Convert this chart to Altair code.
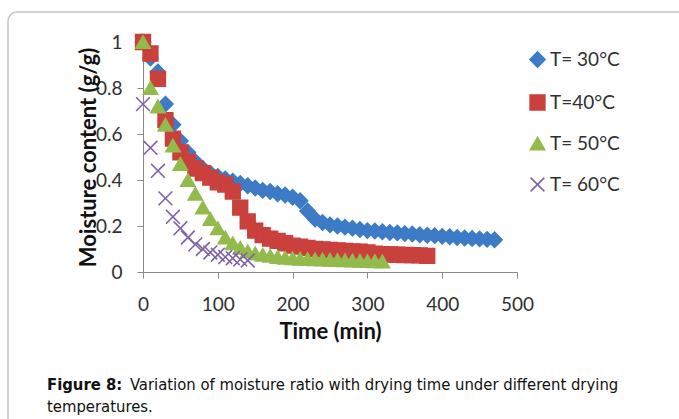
import altair as alt
import pandas as pd

# ---------------- data ----------------
series_names = ["T= 30°C", "T=40°C", "T= 50°C", "T= 60°C"]

time_30 = list(range(0, 480, 10))
mc_30 = [1.0, 0.93, 0.87, 0.73, 0.64, 0.57, 0.52, 0.48, 0.45, 0.43,
         0.415, 0.405, 0.395, 0.385, 0.375, 0.365, 0.355, 0.35, 0.34, 0.335,
         0.325, 0.31, 0.265, 0.23, 0.215, 0.205, 0.2, 0.195, 0.19, 0.185,
         0.18, 0.178, 0.175, 0.172, 0.17, 0.167, 0.165, 0.162, 0.16, 0.158,
         0.155, 0.153, 0.15, 0.148, 0.146, 0.144, 0.142, 0.14]

time_40 = list(range(0, 390, 10))
mc_40 = [1.0, 0.95, 0.84, 0.66, 0.58, 0.52, 0.48, 0.45, 0.43, 0.41,
         0.39, 0.38, 0.35, 0.28, 0.22, 0.18, 0.16, 0.145, 0.135, 0.125,
         0.115, 0.11, 0.105, 0.1, 0.098, 0.096, 0.094, 0.092, 0.09, 0.088,
         0.085, 0.08, 0.078, 0.076, 0.075, 0.074, 0.073, 0.072, 0.07]

time_50 = list(range(0, 330, 10))
mc_50 = [1.0, 0.8, 0.72, 0.64, 0.55, 0.47, 0.4, 0.34, 0.28, 0.23,
         0.19, 0.15, 0.125, 0.105, 0.09, 0.08, 0.075, 0.07, 0.065, 0.062,
         0.06, 0.058, 0.056, 0.055, 0.054, 0.053, 0.052, 0.051, 0.05, 0.049,
         0.048, 0.047, 0.046]

time_60 = list(range(0, 150, 10))
mc_60 = [0.73, 0.54, 0.44, 0.32, 0.24, 0.19, 0.15, 0.12, 0.1, 0.085,
         0.075, 0.065, 0.06, 0.055, 0.05]

x_ticks = [0, 100, 200, 300, 400, 500]
y_ticks = [0, 0.2, 0.4, 0.6, 0.8, 1.0]

caption_bold = "Figure 8:"
caption_line1 = "Variation of moisture ratio with drying time under different drying"
caption_line2 = "temperatures."

colors = ["#3d7bc6", "#c9403c", "#93bb4c", "#7f62a8"]
shapes = ["diamond", "square", "triangle-up", "M-1,-1L1,1M-1,1L1,-1"]
sizes = [230, 190, 280, 200]

# ---------------- build table ----------------
rows = []
for name, ts, vs in zip(series_names,
                        [time_30, time_40, time_50, time_60],
                        [mc_30, mc_40, mc_50, mc_60]):
    for t, v in zip(ts, vs):
        rows.append({"series": name, "time": t, "mc": v})
df = pd.DataFrame(rows)

FONT = "Lato"
W, H = 374, 230
PAD_L, PAD_T = 143, 42

col_scale = alt.Scale(domain=series_names, range=colors)

points = alt.Chart(df).mark_point(filled=True, opacity=1, strokeWidth=1.6).encode(
    x=alt.X("time:Q", scale=alt.Scale(domain=[0, 500], nice=False),
            axis=alt.Axis(values=x_ticks, title="Time (min)", grid=False,
                          tickSize=6, labelPadding=17, titlePadding=7,
                          labelFlush=False,
                          labelFontSize=19, titleFontSize=22)),
    y=alt.Y("mc:Q", scale=alt.Scale(domain=[0, 1], nice=False),
            axis=alt.Axis(values=y_ticks, format="~g", title="Moisture content (g/g)",
                          grid=False, tickSize=6, labelPadding=15, labelFlush=False,
                          labelFontSize=19, titleFontSize=22,
                          titleX=-55, titleY=H / 2, titleAngle=-90,
                          titleAlign="center", titleBaseline="middle")),
    color=alt.Color("series:N", scale=col_scale, title=None),
    stroke=alt.Stroke("series:N", scale=col_scale, title=None),
    shape=alt.Shape("series:N", scale=alt.Scale(domain=series_names, range=shapes), title=None),
    size=alt.Size("series:N", scale=alt.Scale(domain=series_names, range=sizes), title=None),
)

border = alt.Chart(pd.DataFrame({"k": [0]})).mark_rect(
    fill="transparent", stroke="#c4c4c4", strokeWidth=1.5, cornerRadius=9
).encode(x=alt.value(8 - PAD_L), x2=alt.value(720 - PAD_L),
         y=alt.value(12 - PAD_T), y2=alt.value(460 - PAD_T))

cap_font = "Liberation Sans Narrow, Arial Narrow, DejaVu Sans Condensed, Liberation Sans"
cap_size = 16.5
cap_b = alt.Chart(pd.DataFrame({"t": [caption_bold]})).mark_text(
    font=cap_font, fontSize=cap_size, fontWeight="bold", align="left", baseline="alphabetic", color="#111111"
).encode(text="t:N", x=alt.value(47 - PAD_L), y=alt.value(390 - PAD_T))
cap_1 = alt.Chart(pd.DataFrame({"t": [caption_line1]})).mark_text(
    font=cap_font, fontSize=cap_size, align="left", baseline="alphabetic", color="#111111"
).encode(text="t:N", x=alt.value(130 - PAD_L), y=alt.value(390 - PAD_T))
cap_2 = alt.Chart(pd.DataFrame({"t": [caption_line2]})).mark_text(
    font=cap_font, fontSize=cap_size, align="left", baseline="alphabetic", color="#111111"
).encode(text="t:N", x=alt.value(47 - PAD_L), y=alt.value(412 - PAD_T))

chart = alt.layer(border, points, cap_b, cap_1, cap_2).properties(
    width=W, height=H,
    autosize=alt.AutoSizeParams(type="none"),
    padding={"left": PAD_L, "top": PAD_T, "right": 679 - PAD_L - W, "bottom": 419 - PAD_T - H},
    background="white",
).configure_view(stroke=None).configure_axis(
    labelFont=FONT, titleFont=FONT, labelColor="#303030", titleColor="#111111",
    domainColor="#8a8a8a", tickColor="#8a8a8a", domainWidth=1, tickWidth=1,
    titleFontWeight="bold",
).configure_legend(
    orient="none", legendX=385, legendY=8, labelFont=FONT, labelFontSize=19,
    labelColor="#303030", rowPadding=20, labelOffset=3, symbolStrokeWidth=1.6,
    padding=0,
)

chart.save("out.html", embed_options={"renderer": "svg", "actions": False})
